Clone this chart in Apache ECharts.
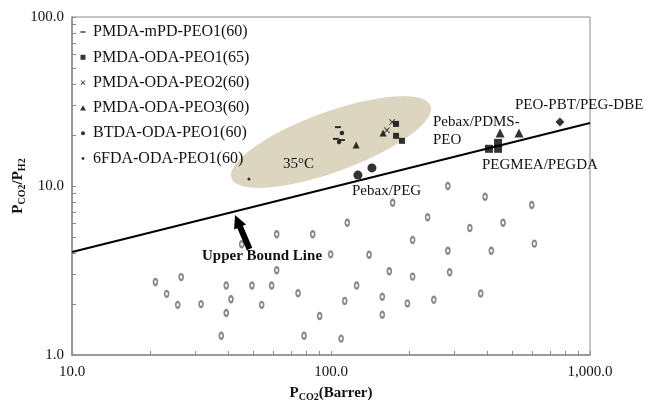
<!DOCTYPE html>
<html>
<head>
<meta charset="utf-8">
<script src="https://cdn.jsdelivr.net/npm/echarts@6/dist/echarts.min.js"></script>
<style>html,body{margin:0;padding:0;background:#fff}#c{width:646px;height:403px}</style>
</head>
<body>
<div id="c"></div>
<script>
// ---- data ----
var xTickLabels = [10, 100, 1000];
var yTickLabels = [1, 10, 100];
var xMinorTicks = [10,20,30,40,50,60,70,80,90,100,200,300,400,500,600,700,800,900,1000];
var yMinorTicks = [1,2,3,4,5,6,7,8,9,10,20,30,40,50,60,70,80,90,100];

var pmdaMpdPeo1 = [[106.4,22.3],[104.5,19.0],[110.2,18.7]];
var pmdaOdaPeo1 = [[178.3,23.3],[178.3,19.8],[188,18.5]];
var pmdaOdaPeo2 = [[172.2,23.9],[164.4,21.4]];
var pmdaOdaPeo3 = [[125,17.5],[158.9,20.6]];
var btdaOdaPeo1 = [[110.2,20.6],[107.4,18.2]];
var fdaOdaPeo1  = [[48.2,11.0]];

var pebaxPeg     = [[127,11.6],[143.9,12.8]];
var pebaxPdmsPeo = [[449.6,20.6],[532,20.6]];
var pegmeaPegda  = [[407.5,16.6],[441.6,18.0],[441.6,16.6]];
var peoPbtPegDbe = [[765.6,23.9]];
var upperBound   = [[10,4.07],[1000,23.6]];

var otherMembranes = [
 [45.2,4.52],[61.7,5.18],[85.0,5.18],[115.6,6.06],[99.7,3.94],[61.7,3.17],
 [21.0,2.70],[26.4,2.89],[39.4,2.58],[49.5,2.58],[59.0,2.58],[125.6,2.58],
 [23.2,2.30],[41.1,2.14],[74.6,2.32],[25.6,1.98],[31.5,2.00],[54.0,1.98],
 [113.0,2.09],[39.4,1.77],[90.4,1.70],[37.7,1.30],[78.7,1.30],[109.4,1.25],
 [282.6,10.0],[393.5,8.64],[595.9,7.72],[173.0,7.96],[236.1,6.53],[343.6,5.64],
 [461.6,6.06],[206.6,4.79],[282.6,4.14],[415.8,4.14],[609.9,4.56],[140.3,3.92],
 [167.9,3.13],[206.6,2.91],[287.1,3.09],[157.8,2.21],[197.2,2.02],[249.5,2.12],
 [378.5,2.31],[157.8,1.73]
];

var seriesNames = ['PMDA-mPD-PEO1(60)','PMDA-ODA-PEO1(65)','PMDA-ODA-PEO2(60)',
                   'PMDA-ODA-PEO3(60)','BTDA-ODA-PEO1(60)','6FDA-ODA-PEO1(60)'];

// ---- styling ----
var SERIF = '"Liberation Serif","Times New Roman",serif';
var F = 'path://M0,0M10,10';
var crossPath = 'path://M0,1L1,0L5,4L9,0L10,1L6,5L10,9L9,10L5,6L1,10L0,9L4,5Z';
var legendIcons = [
  F + 'M2.5,4.3h5v1.4h-5z',
  F + 'M2.5,2.5h5v5h-5z',
  F + 'M2.6,3.2L3.2,2.6L5,4.4L6.8,2.6L7.4,3.2L5.6,5L7.4,6.8L6.8,7.4L5,5.6L3.2,7.4L2.6,6.8L4.4,5Z',
  F + 'M5,2.3L8,7.5L2,7.5Z',
  F + 'M3,5a2,2 0 1,0 4,0a2,2 0 1,0 -4,0z',
  F + 'M3.6,5a1.4,1.4 0 1,0 2.8,0a1.4,1.4 0 1,0 -2.8,0z'
];

function sc(name, data, symbol, size, extra) {
  var s = {type:'scatter', name:name, data:data, symbol:symbol, symbolSize:size,
    itemStyle:{color:'#000'}, z:5, emphasis:{disabled:true}, silent:true};
  if (extra) for (var k in extra) s[k] = extra[k];
  return s;
}

var chart = echarts.init(document.getElementById('c'), null, {renderer:'canvas'});

var arrowTip=[235,215], arrowTail=[249.5,249];
var ux=arrowTip[0]-arrowTail[0], uy=arrowTip[1]-arrowTail[1], ul=Math.sqrt(ux*ux+uy*uy);
ux/=ul; uy/=ul; var nx=-uy, ny=ux;
var bx=arrowTip[0]-13*ux, by=arrowTip[1]-13*uy;
function P(x,y,k){return [x+k*nx,y+k*ny];}
var arrowPts=[P(arrowTail[0],arrowTail[1],3),P(bx,by,3),P(bx,by,6.5),arrowTip,P(bx,by,-6.5),P(bx,by,-3),P(arrowTail[0],arrowTail[1],-3)];

function txt(t,x,y,size,bold,align){
  return {type:'text', x:x, y:y, z:10, style:{text:t, font:(bold?'bold ':'')+size+'px '+SERIF,
    fill:'#111', align:align||'left', verticalAlign:'middle', textAlign:align||'left', textVerticalAlign:'middle'}};
}

var option = {
  animation:false,
  backgroundColor:'#fff',
  grid:{left:72,right:56,top:17,bottom:48,show:true,borderColor:'#8a8a8a',borderWidth:1,
    containLabel:false, outerBoundsMode:'none'},
  legend:{
    orient:'vertical', left:73, top:17, itemWidth:10, itemHeight:10, itemGap:5.3,
    textStyle:{fontFamily:SERIF,fontSize:16,color:'#111',lineHeight:20},
    selectedMode:false,
    data: seriesNames.map(function(n,i){return {name:n, icon:legendIcons[i], itemStyle:{color:'#000'}};})
  },
  xAxis:{
    type:'log', logBase:10, min:10, max:1000,
    name:'{b|P}{s|CO2}{b|(Barrer)}', nameLocation:'middle', nameGap:29,
    nameTextStyle:{rich:{
      b:{fontFamily:SERIF,fontSize:15,fontWeight:'bold',color:'#111',lineHeight:18},
      s:{fontFamily:SERIF,fontSize:10,fontWeight:'bold',color:'#111',lineHeight:8,verticalAlign:'bottom'}}},
    axisLine:{lineStyle:{color:'#8a8a8a',width:1.5}},
    axisTick:{inside:true,length:4,customValues:xMinorTicks,lineStyle:{color:'#8a8a8a'}},
    axisLabel:{customValues:xTickLabels,fontFamily:SERIF,fontSize:15,color:'#111',margin:10,
      formatter:function(v){return Number(v).toLocaleString('en-US',{minimumFractionDigits:1,maximumFractionDigits:1});}},
    splitLine:{show:false}
  },
  yAxis:{
    type:'log', logBase:10, min:1, max:100,
    name:'{b|P}{s|CO2}{b|/P}{s|H2}', nameLocation:'middle', nameGap:45, nameRotate:90,
    nameMoveOverlap:false,
    nameTextStyle:{rich:{
      b:{fontFamily:SERIF,fontSize:15,fontWeight:'bold',color:'#111',lineHeight:18},
      s:{fontFamily:SERIF,fontSize:10,fontWeight:'bold',color:'#111',lineHeight:8,verticalAlign:'bottom'}}},
    axisLine:{lineStyle:{color:'#8a8a8a',width:1.5}},
    axisTick:{inside:true,length:4,customValues:yMinorTicks,lineStyle:{color:'#8a8a8a'}},
    axisLabel:{customValues:yTickLabels,fontFamily:SERIF,fontSize:15,color:'#111',margin:8,
      formatter:function(v){return Number(v).toFixed(1);}},
    splitLine:{show:false}
  },
  graphic:[
    {type:'circle', x:331, y:142, rotation:20*Math.PI/180, scaleX:106/30, z:0,
      shape:{cx:0,cy:0,r:30}, style:{fill:'#dcd6c1'}},
    {type:'polygon', z:10, shape:{points:arrowPts}, style:{fill:'#000'}},
    txt('35°C',283,164,15,false),
    txt('Upper Bound Line',202,256,15,true),
    txt('Pebax/PEG',352,191,15,false),
    txt('Pebax/PDMS-',433,122,15,false),
    txt('PEO',433,140,15,false),
    txt('PEGMEA/PEGDA',482,165,15,false),
    txt('PEO-PBT/PEG-DBE',515,105,15,false)
  ],
  series:[
    {type:'line', name:'Upper Bound', data:upperBound, showSymbol:false, symbol:'none',
      lineStyle:{color:'#000',width:2}, z:4, silent:true},
    sc('Other', otherMembranes, 'emptyCircle', [4,6], {itemStyle:{color:'#6a6a6a',borderColor:'#6a6a6a',borderWidth:1}}),
    sc(seriesNames[0], pmdaMpdPeo1, 'rect', [6,2]),
    sc(seriesNames[1], pmdaOdaPeo1, 'rect', 6),
    sc(seriesNames[2], pmdaOdaPeo2, crossPath, 6),
    sc(seriesNames[3], pmdaOdaPeo3, 'triangle', 7),
    sc(seriesNames[4], btdaOdaPeo1, 'circle', 4.5),
    sc(seriesNames[5], fdaOdaPeo1, 'circle', 3),
    sc('Pebax/PEG', pebaxPeg, 'circle', 9),
    sc('Pebax/PDMS-PEO', pebaxPdmsPeo, 'triangle', 9),
    sc('PEGMEA/PEGDA', pegmeaPegda, 'rect', 8),
    sc('PEO-PBT/PEG-DBE', peoPbtPegDbe, 'diamond', 9)
  ]
};
chart.setOption(option);
</script>
</body>
</html>
